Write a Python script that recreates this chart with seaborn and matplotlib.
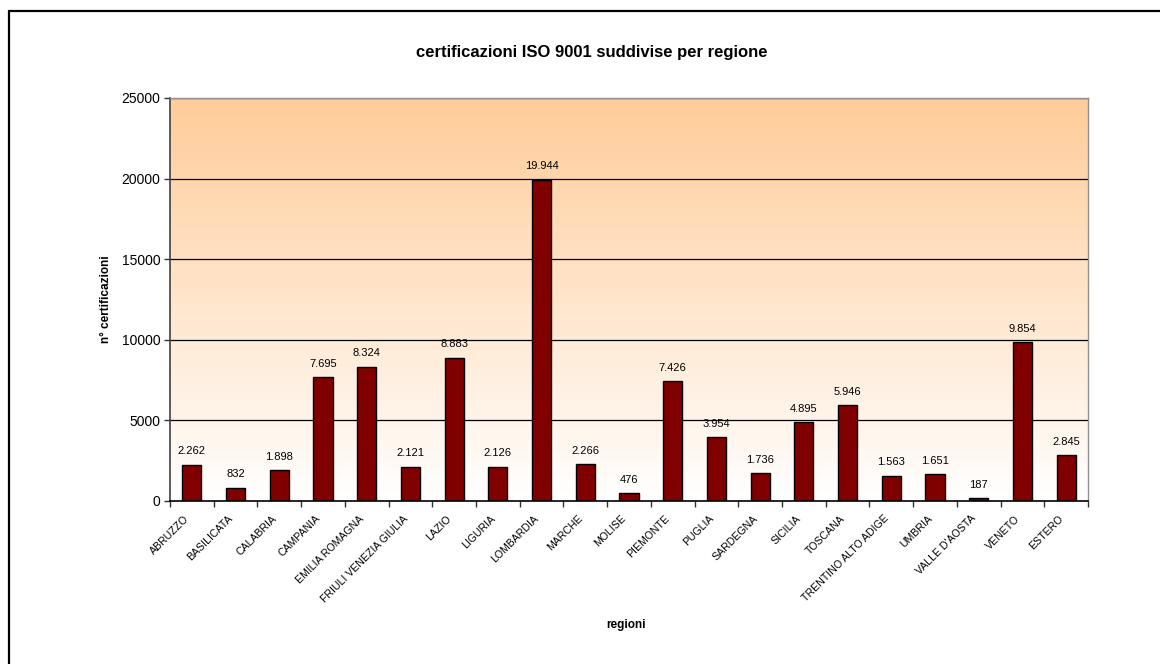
import numpy as np
import pandas as pd
import matplotlib
matplotlib.use("Agg")
import matplotlib.pyplot as plt
from matplotlib.lines import Line2D
from matplotlib.transforms import ScaledTranslation
import seaborn as sns

regioni = ["ABRUZZO", "BASILICATA", "CALABRIA", "CAMPANIA", "EMILIA ROMAGNA",
           "FRIULI VENEZIA GIULIA", "LAZIO", "LIGURIA", "LOMBARDIA", "MARCHE",
           "MOLISE", "PIEMONTE", "PUGLIA", "SARDEGNA", "SICILIA", "TOSCANA",
           "TRENTINO ALTO ADIGE", "UMBRIA", "VALLE D'AOSTA", "VENETO", "ESTERO"]
certificazioni = [2262, 832, 1898, 7695, 8324, 2121, 8883, 2126, 19944, 2266,
                  476, 7426, 3954, 1736, 4895, 5946, 1563, 1651, 187, 9854, 2845]
y_ticks = [0, 5000, 10000, 15000, 20000, 25000]

sns.set_theme(style="white")
plt.rcParams['font.family'] = ['Liberation Sans', 'DejaVu Sans']

df = pd.DataFrame({"regione": regioni, "n": certificazioni})

fig = plt.figure(figsize=(11.6, 6.64), dpi=100)
ax = fig.add_axes([170/1160, 1-501/664, (1088-170)/1160, (501-98)/664])

# gradient background
top = np.array([1.0, 0.80, 0.60])
bot = np.array([1.0, 1.0, 1.0])
t = np.linspace(0, 1, 256)[:, None]
grad = (top[None, :] * (1 - t) + bot[None, :] * t)[:, None, :]
ax.imshow(grad, extent=[0, 1, 0, 1], transform=ax.transAxes, aspect='auto', zorder=0)

for yv in y_ticks[1:]:
    ax.axhline(yv, color='black', lw=0.9, zorder=1)

sns.barplot(data=df, x="regione", y="n", color="#800000", saturation=1,
            width=0.44, edgecolor="black", linewidth=1.0, ax=ax, zorder=3)

for i, v in enumerate(certificazioni):
    ax.annotate(f"{v:,}".replace(",", "."), (i, v), xytext=(0, 6),
                textcoords="offset points", ha="center", va="bottom",
                fontsize=8, color="black")

ax.set_xlim(-0.5, len(regioni) - 0.5)
ax.set_ylim(0, 25000)
ax.set_yticks(y_ticks)
ax.set_yticklabels([str(v) for v in y_ticks], fontsize=10, color='black')

ax.set_xticks(range(len(regioni)))
ax.set_xticks(np.arange(-0.5, len(regioni)), minor=True)
ax.tick_params(axis='x', which='major', length=0, pad=9)
ax.tick_params(axis='x', which='minor', length=4, width=1, color='#333333', direction='out', bottom=True)
ax.tick_params(axis='y', length=4, width=1, color='#333333', direction='out', left=True, pad=3)
ax.set_xticklabels(regioni, rotation=45, ha='right', rotation_mode='anchor',
                   fontsize=7.6, color='black')
shift = ScaledTranslation(-0.08, 0, fig.dpi_scale_trans)
for lbl in ax.get_xticklabels():
    lbl.set_transform(lbl.get_transform() + shift)

for s in ['top', 'right']:
    ax.spines[s].set_color('#909090')
    ax.spines[s].set_linewidth(1.0)
ax.spines['left'].set_color('#404040')
ax.spines['left'].set_linewidth(1.2)
ax.spines['bottom'].set_color('black')
ax.spines['bottom'].set_linewidth(1.2)
for s in ax.spines.values():
    s.set_zorder(5)

ax.set_xlabel("regioni", fontsize=8.5, fontweight='bold', color='black')
ax.xaxis.set_label_coords(0.497, -(619-501)/403)
ax.set_ylabel("n° certificazioni", fontsize=8.5, fontweight='bold', color='black')
ax.yaxis.set_label_coords(-(170-112)/918, 0.5)

fig.text(592/1160, 1-52/664, "certificazioni ISO 9001 suddivise per regione",
         ha='center', va='center', fontsize=12, fontweight='bold', color='black')

# outer frame (top and left edges visible)
fig.add_artist(Line2D([9/1160, 1.0], [1-11/664, 1-11/664], transform=fig.transFigure,
                      color='black', lw=1.6))
fig.add_artist(Line2D([9/1160, 9/1160], [0, 1-11/664], transform=fig.transFigure,
                      color='black', lw=1.6))

fig.savefig("out.png", dpi=100)
